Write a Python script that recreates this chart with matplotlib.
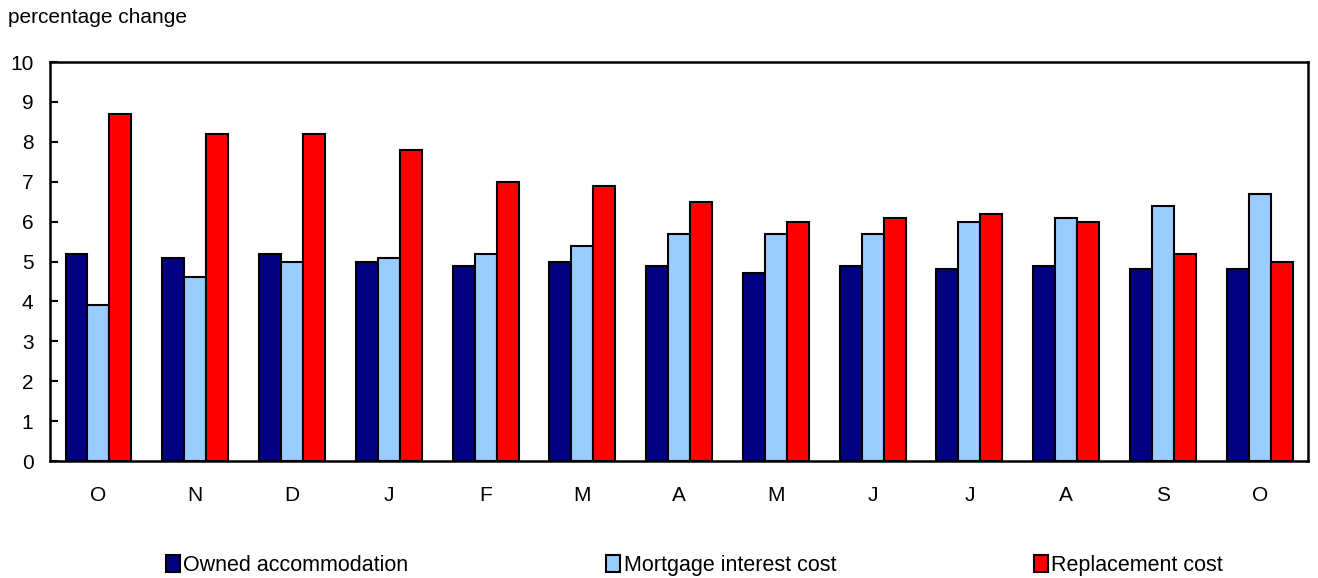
import numpy as np
import matplotlib.pyplot as plt

plt.rcParams['font.family'] = ['Liberation Sans', 'DejaVu Sans']

months = ["O", "N", "D", "J", "F", "M", "A", "M", "J", "J", "A", "S", "O"]
owned = [5.2, 5.1, 5.2, 5.0, 4.9, 5.0, 4.9, 4.7, 4.9, 4.8, 4.9, 4.8, 4.8]
mortgage = [3.9, 4.6, 5.0, 5.1, 5.2, 5.4, 5.7, 5.7, 5.7, 6.0, 6.1, 6.4, 6.7]
replacement = [8.7, 8.2, 8.2, 7.8, 7.0, 6.9, 6.5, 6.0, 6.1, 6.2, 6.0, 5.2, 5.0]

series = [
    ("Owned accommodation", owned, "#000080"),
    ("Mortgage interest cost", mortgage, "#99CCFF"),
    ("Replacement cost", replacement, "#FF0000"),
]

fig = plt.figure(figsize=(13.18, 5.78), dpi=100)
ax = fig.add_axes([0.038, 0.2024, 0.9545, 0.6903])

x = np.arange(len(months))
width = 0.227
for i, (name, vals, color) in enumerate(series):
    ax.bar(x + (i - 1) * width, vals, width, color=color, edgecolor="black",
           linewidth=1.5, label=name)

ax.set_xlim(-0.5, len(months) - 0.5)
ax.set_ylim(0, 10)
ax.set_yticks(range(0, 11))
ax.set_xticks(x)
ax.set_xticklabels(months)
ax.tick_params(axis="y", direction="in", length=6, width=1.5, labelsize=15, pad=12)
ax.tick_params(axis="x", length=0, labelsize=15, pad=18)
for s in ax.spines.values():
    s.set_linewidth(1.8)

fig.text(0.006, 0.97, "percentage change", fontsize=15, va="center")

fig.legend(loc="center", bbox_to_anchor=(0.527, 0.022), ncol=3, frameon=False,
           fontsize=15.5, handlelength=0.65, handleheight=0.8, handletextpad=0.15,
           columnspacing=9.2)

fig.savefig("out.png", dpi=100)
